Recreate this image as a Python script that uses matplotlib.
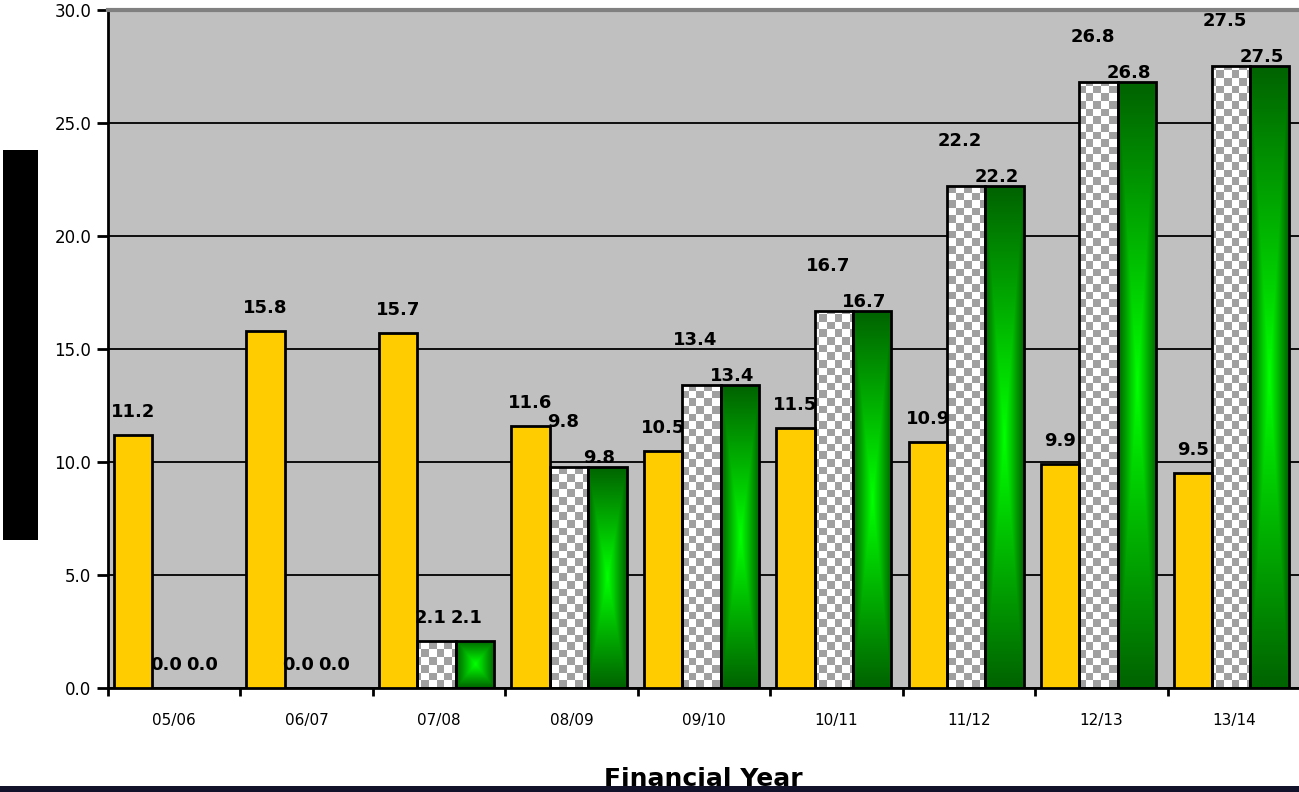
import numpy as np
from matplotlib import pyplot as plt
from matplotlib.colors import LinearSegmentedColormap, ListedColormap
from matplotlib.patches import Rectangle

# data
years = ["05/06", "06/07", "07/08", "08/09", "09/10", "10/11", "11/12", "12/13", "13/14"]
yellow_vals = [11.2, 15.8, 15.7, 11.6, 10.5, 11.5, 10.9, 9.9, 9.5]
checker_vals = [0.0, 0.0, 2.1, 9.8, 13.4, 16.7, 22.2, 26.8, 27.5]
green_vals = [0.0, 0.0, 2.1, 9.8, 13.4, 16.7, 22.2, 26.8, 27.5]

W, H = 1299, 792
fig = plt.figure(figsize=(W / 100, H / 100), dpi=100)
fig.patch.set_facecolor("white")
ax = fig.add_axes([108 / W, 104 / H, (1300 - 108) / W, (688 - 10) / H])
ax.set_facecolor("#C0C0C0")

x = np.arange(len(years))
bw = 0.29
shift = -0.02

ax.set_xlim(-0.5, len(years) - 0.5)
ax.set_ylim(0, 30)

# yellow bars
yb = ax.bar(x - bw + shift, yellow_vals, bw, color="#FFCC00", edgecolor="black", linewidth=2, zorder=3)

# checkered bars: white/grey checkerboard clipped to the bar
cb = ax.bar(x + shift, checker_vals, bw, facecolor="none", edgecolor="black", linewidth=2, zorder=4)
nx, ny = int(1192 / 7.6), int(678 / 7.6)
board = (np.add.outer(np.arange(ny), np.arange(nx)) % 2).astype(float)
checker_cmap = ListedColormap(["white", "#A0A0A0"])
for b in cb:
    if b.get_height() <= 0:
        continue
    im = ax.imshow(board, cmap=checker_cmap, extent=(-0.5, len(years) - 0.5, 0, 30),
                   origin="lower", aspect="auto", interpolation="nearest", zorder=2)
    im.set_clip_path(b)

# green bars: rectangular gradient, bright in the centre
gb = ax.bar(x + bw + shift, green_vals, bw, facecolor="none", edgecolor="black", linewidth=2, zorder=4)
green_cmap = LinearSegmentedColormap.from_list("grn", ["#006400", "#00B000", "#00FF00"])
u = np.linspace(-1, 1, 80)
grad = 1 - np.maximum(np.abs(u)[None, :], np.abs(u)[:, None])
for b in gb:
    if b.get_height() <= 0:
        continue
    x0, w, h = b.get_x(), b.get_width(), b.get_height()
    im = ax.imshow(grad, cmap=green_cmap, extent=(x0, x0 + w, 0, h), origin="lower",
                   aspect="auto", interpolation="bilinear", zorder=2)
    im.set_clip_path(b)

ax.set_xlim(-0.5, len(years) - 0.5)
ax.set_ylim(0, 30)

# value labels
lab_font = dict(fontsize=13, fontweight="bold", color="black", ha="center", va="bottom", zorder=6)
for b, v in zip(yb, yellow_vals):
    ax.annotate(f"{v:.1f}", (b.get_x() + b.get_width() / 2, v), xytext=(0, 14),
                textcoords="offset pixels", **lab_font)
for b, v in zip(cb, checker_vals):
    dy = 14 if v < 5 else 36
    ax.annotate(f"{v:.1f}", (b.get_x() + b.get_width() / 2, v), xytext=(-6, dy),
                textcoords="offset pixels", **lab_font)
for b, v in zip(gb, green_vals):
    dy = 14 if v < 5 else 0
    ax.annotate(f"{v:.1f}", (b.get_x() + b.get_width() / 2, v), xytext=(-8, dy),
                textcoords="offset pixels", **lab_font)

# grid and axes styling
ax.set_yticks(np.arange(0, 31, 5))
ax.set_yticklabels([f"{t:.1f}" for t in np.arange(0, 31, 5)], fontsize=12)
ax.yaxis.grid(True, color="black", linewidth=1.3)
ax.set_axisbelow(True)
ax.set_xticks(x)
ax.set_xticklabels(years, fontsize=11)
ax.set_xticks(np.arange(-0.5, len(years)), minor=True)
ax.tick_params(axis="x", which="major", length=0, pad=18)
ax.tick_params(axis="x", which="minor", length=6, width=2, direction="out")
ax.tick_params(axis="y", length=8, width=2, direction="out", pad=4)

for s in ["left", "bottom"]:
    ax.spines[s].set_color("black")
    ax.spines[s].set_linewidth(2)
ax.spines["top"].set_color("#808080")
ax.spines["top"].set_linewidth(3)
ax.spines["right"].set_visible(False)

fig.text(703 / W, 6 / H, "Financial Year", fontsize=18, fontweight="bold", ha="center", va="baseline")

# blacked-out y label block and dark bottom strip
fig.patches.append(Rectangle((3 / W, (H - 540) / H), 35 / W, 390 / H, transform=fig.transFigure,
                             facecolor="black", edgecolor="none"))
fig.patches.append(Rectangle((0, 0), 1, 6 / H, transform=fig.transFigure,
                             facecolor="#12132B", edgecolor="none", zorder=10))

plt.savefig("out.png", dpi=100)
